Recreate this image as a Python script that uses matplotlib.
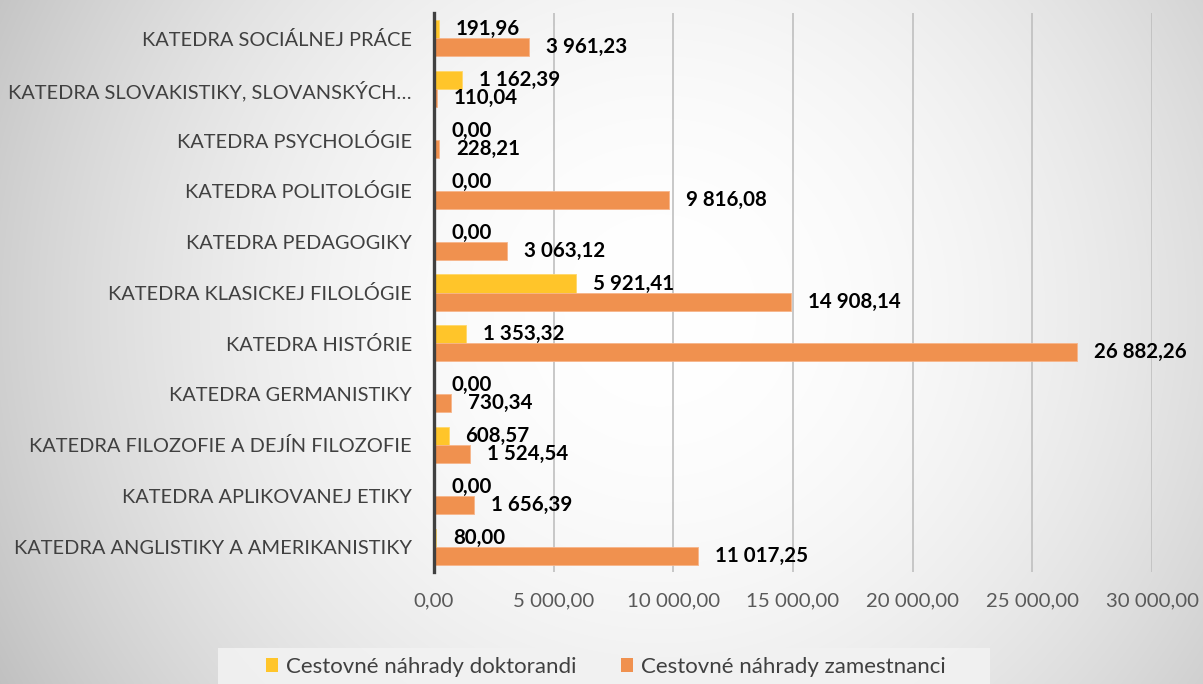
import numpy as np
import matplotlib.pyplot as plt
from matplotlib.patches import Rectangle

# ============================================================
# DATA
# ============================================================
CATEGORIES = [
    "KATEDRA ANGLISTIKY A AMERIKANISTIKY",
    "KATEDRA APLIKOVANEJ ETIKY",
    "KATEDRA FILOZOFIE A DEJÍN FILOZOFIE",
    "KATEDRA GERMANISTIKY",
    "KATEDRA HISTÓRIE",
    "KATEDRA KLASICKEJ FILOLÓGIE",
    "KATEDRA PEDAGOGIKY",
    "KATEDRA POLITOLÓGIE",
    "KATEDRA PSYCHOLÓGIE",
    "KATEDRA SLOVAKISTIKY, SLOVANSKÝCH…",
    "KATEDRA SOCIÁLNEJ PRÁCE",
]
DOKTORANDI = [80.00, 0.00, 608.57, 0.00, 1353.32, 5921.41, 0.00, 0.00, 0.00, 1162.39, 191.96]
ZAMESTNANCI = [11017.25, 1656.39, 1524.54, 730.34, 26882.26, 14908.14, 3063.12, 9816.08, 228.21, 110.04, 3961.23]
X_TICKS = [0, 5000, 10000, 15000, 20000, 25000, 30000]
SERIES_LABELS = ["Cestovné náhrady doktorandi", "Cestovné náhrady zamestnanci"]

# ============================================================
# STYLE
# ============================================================
YELLOW = "#FFC52A"
ORANGE = "#F0914F"
TEXT_COLOR = "#404040"
TICK_COLOR = "#595959"
FONT = "Lato"
W, H, DPI = 1203, 684, 100
BAR_H = 0.355


def fmt(v):
    return f"{v:,.2f}".replace(",", " ").replace(".", ",")


def draw_background(fig):
    bg = fig.add_axes([0, 0, 1, 1], zorder=-10)
    yy, xx = np.mgrid[0:H, 0:W]
    r = np.hypot(xx - 660, yy - 310) / 720.0
    val = 1.0 - 0.22 * r ** 2
    img = np.dstack([val, val, val])
    bg.imshow(img, extent=[0, 1, 0, 1], aspect="auto", vmin=0, vmax=1)
    bg.set_axis_off()
    # legend backdrop
    bg.add_patch(Rectangle((218 / W, 0), (990 - 218) / W, 36 / H,
                           transform=bg.transAxes, facecolor="#f2f2f2",
                           edgecolor="none", alpha=0.9))


def main():
    fig = plt.figure(figsize=(W / DPI, H / DPI), dpi=DPI)
    draw_background(fig)

    ax = fig.add_axes([434 / W, 1 - 572 / H, (1152 - 434) / W, (572 - 13) / H])
    ax.set_facecolor("none")

    y = np.arange(len(CATEGORIES))
    ax.barh(y + BAR_H / 2, DOKTORANDI, height=BAR_H, color=YELLOW,
            edgecolor="#ffd76a", linewidth=0.6, zorder=3)
    ax.barh(y - BAR_H / 2, ZAMESTNANCI, height=BAR_H, color=ORANGE,
            edgecolor="#f7b58a", linewidth=0.6, zorder=3)

    for i in range(len(CATEGORIES)):
        ax.annotate(fmt(DOKTORANDI[i]), (DOKTORANDI[i], y[i] + BAR_H / 2),
                    xytext=(17, 0), textcoords="offset pixels",
                    ha="left", va="center", fontsize=14.8, fontweight="bold",
                    family=FONT, color="black", zorder=5)
        ax.annotate(fmt(ZAMESTNANCI[i]), (ZAMESTNANCI[i], y[i] - BAR_H / 2),
                    xytext=(17, 0), textcoords="offset pixels",
                    ha="left", va="center", fontsize=14.8, fontweight="bold",
                    family=FONT, color="black", zorder=5)

    ax.set_xlim(0, 30000)
    ax.set_ylim(-0.5, len(CATEGORIES) - 0.5)
    ax.set_xticks(X_TICKS)
    ax.set_xticklabels([fmt(v) for v in X_TICKS], family=FONT, fontsize=14.7,
                       color=TICK_COLOR)
    ax.set_yticks(y)
    ax.set_yticklabels(CATEGORIES, family=FONT, fontsize=14.4, color=TEXT_COLOR)
    ax.tick_params(axis="x", length=0, pad=15)
    ax.tick_params(axis="y", length=0, pad=16)

    ax.grid(axis="x", color="#bfbfbf", linewidth=1.2, zorder=0)
    for s in ["top", "right", "bottom"]:
        ax.spines[s].set_visible(False)
    ax.spines["left"].set_color("#404040")
    ax.spines["left"].set_linewidth(2.4)
    ax.spines["left"].set_zorder(4)

    # legend
    handles = [Rectangle((0, 0), 1, 1, facecolor=YELLOW),
               Rectangle((0, 0), 1, 1, facecolor=ORANGE)]
    fig.legend(handles, SERIES_LABELS, loc="center", bbox_to_anchor=(606 / W, 1 - 667 / H),
               ncol=2, frameon=False, prop={"family": FONT, "size": 16},
               labelcolor=TEXT_COLOR, handlelength=0.55, handleheight=0.55,
               handletextpad=0.35, columnspacing=2.0)

    fig.savefig("out.png", dpi=DPI)
    plt.close(fig)


if __name__ == "__main__":
    main()
